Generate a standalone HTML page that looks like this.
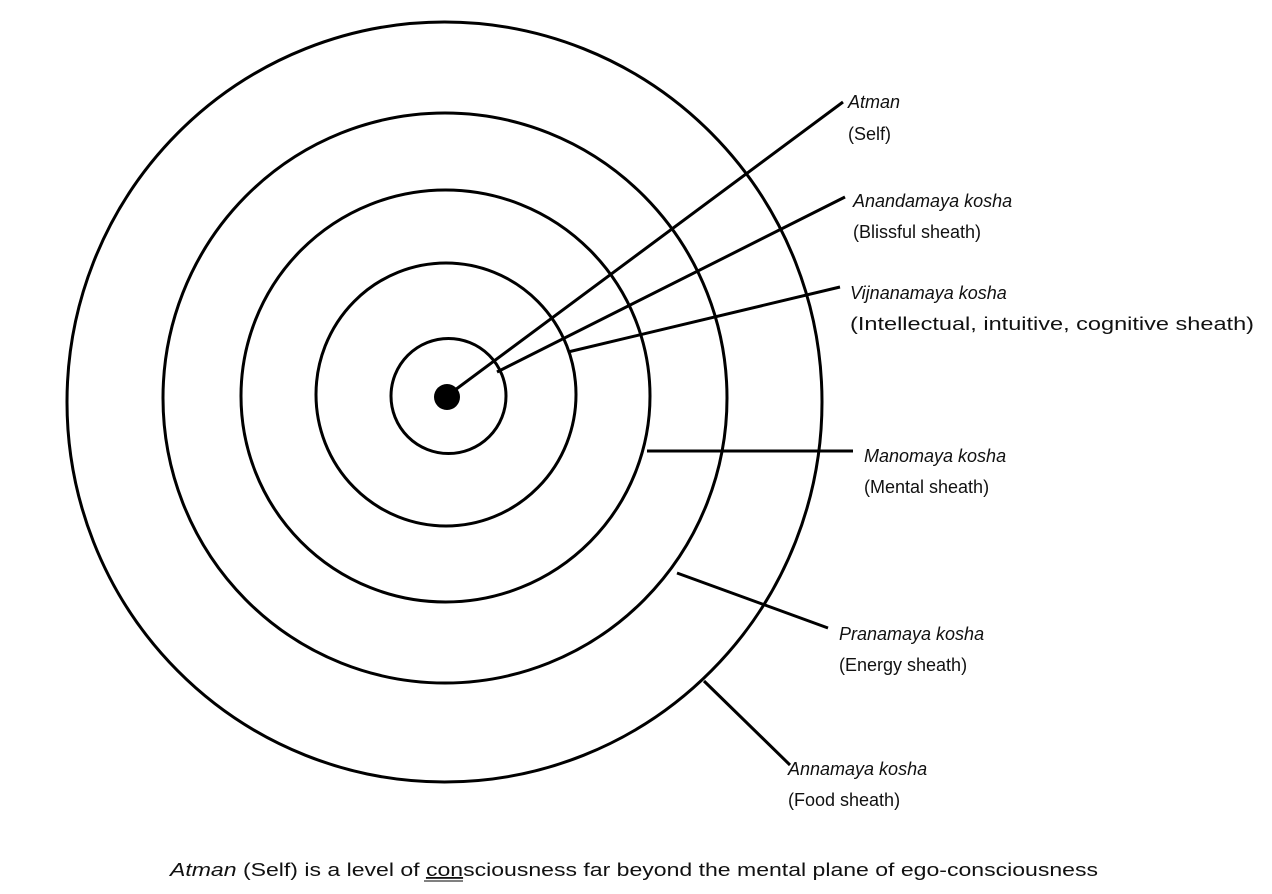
<!DOCTYPE html>
<html><head><meta charset="utf-8"><style>
html,body{margin:0;padding:0;background:#fff;}
svg{display:block;}
text{font-family:"Liberation Sans",sans-serif;font-size:18px;fill:#111;}
.i{font-style:italic;}
</style></head><body>
<svg width="1272" height="894" viewBox="0 0 1272 894">
<g fill="none" stroke="#000" stroke-width="3">
<ellipse cx="444.5" cy="402" rx="377.5" ry="380"/>
<ellipse cx="445" cy="398" rx="282" ry="285"/>
<ellipse cx="445.5" cy="396" rx="204.5" ry="206"/>
<ellipse cx="446" cy="394.5" rx="130" ry="131.5"/>
<ellipse cx="448.5" cy="396" rx="57.5" ry="57.5"/>
<line x1="455" y1="390" x2="843" y2="102"/>
<line x1="497" y1="372" x2="845" y2="197"/>
<line x1="568" y1="352" x2="840" y2="287"/>
<line x1="647" y1="451" x2="853" y2="451"/>
<line x1="677" y1="573" x2="828" y2="628"/>
<line x1="704" y1="681" x2="790" y2="765"/>
</g>
<circle cx="447" cy="397" r="13" fill="#000"/>
<text x="848" y="108" class="i">Atman</text>
<text x="848" y="140">(Self)</text>
<text x="853" y="207" class="i">Anandamaya kosha</text>
<text x="853" y="238">(Blissful sheath)</text>
<text x="850" y="299" class="i">Vijnanamaya kosha</text>
<text x="850" y="330" textLength="404" lengthAdjust="spacingAndGlyphs">(Intellectual, intuitive, cognitive sheath)</text>
<text x="864" y="462" class="i">Manomaya kosha</text>
<text x="864" y="493">(Mental sheath)</text>
<text x="839" y="640" class="i">Pranamaya kosha</text>
<text x="839" y="671">(Energy sheath)</text>
<text x="788" y="775" class="i">Annamaya kosha</text>
<text x="788" y="806">(Food sheath)</text>
<text x="170" y="876" textLength="928" lengthAdjust="spacingAndGlyphs"><tspan class="i">Atman</tspan> (Self) is a level of <tspan text-decoration="underline">con</tspan>sciousness far beyond the mental plane of ego-consciousness</text>
<line x1="424" y1="881" x2="463" y2="881" stroke="#000" stroke-width="1"/>
</svg>
</body></html>
